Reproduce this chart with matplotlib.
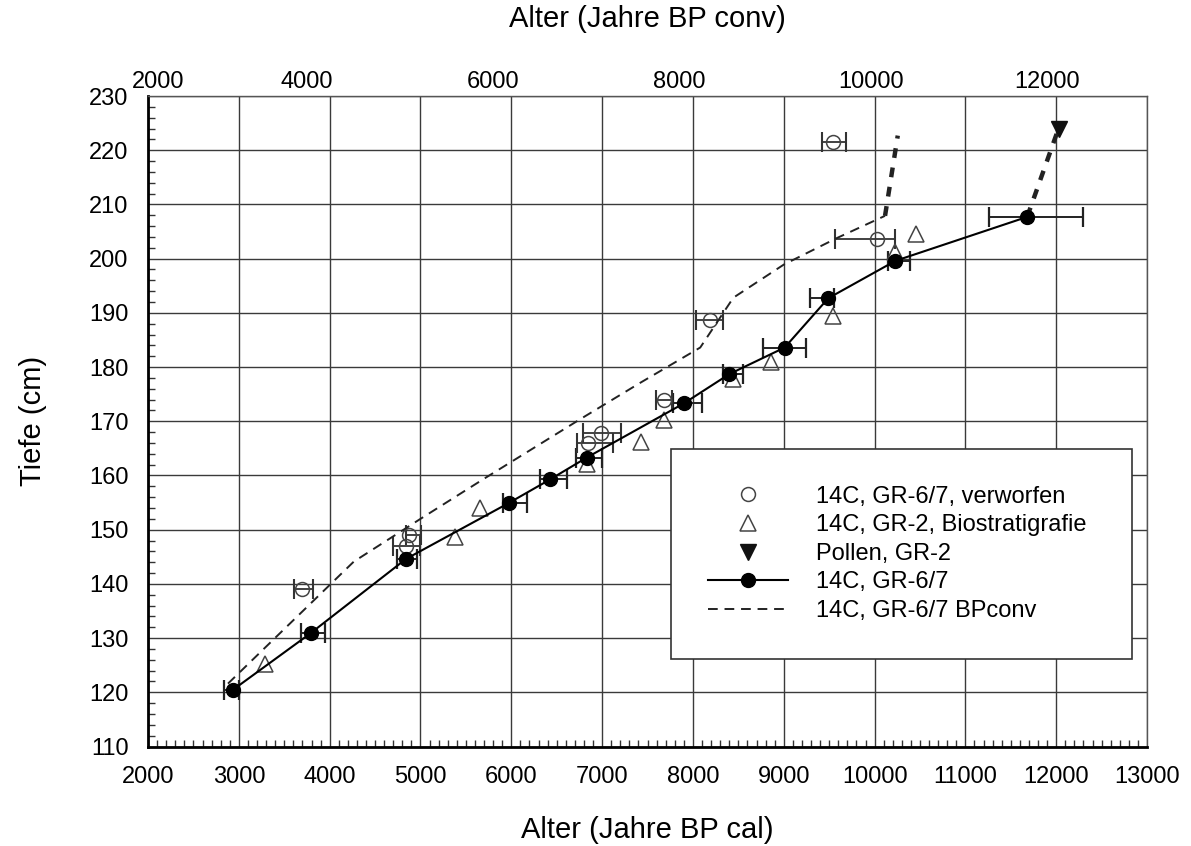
import matplotlib
matplotlib.use("Agg")
import matplotlib.pyplot as plt
from matplotlib.ticker import MultipleLocator

plt.rcParams['font.family'] = ['Liberation Sans', 'DejaVu Sans']

# 14C, GR-6/7 (cal. ages, with error range)
cal_age = [2930, 3790, 4840, 5970, 6430, 6830, 7900, 8400, 9010, 9490, 10230, 11680]
cal_depth = [120.4, 130.9, 144.6, 154.9, 159.3, 163.3, 173.3, 178.7, 183.6, 192.7, 199.6, 207.7]
cal_lo = [2840, 3685, 4740, 5910, 6320, 6710, 7780, 8335, 8770, 9285, 10150, 11255]
cal_hi = [3000, 3950, 4960, 6170, 6615, 7000, 8095, 8550, 9245, 9550, 10390, 12290]

# 14C, GR-6/7, verworfen
rej_age = [3690, 4840, 4870, 6840, 6985, 7685, 8190, 10025, 9545]
rej_depth = [139.0, 147.0, 149.0, 165.9, 167.9, 173.9, 188.7, 203.6, 221.6]
rej_lo = [3610, 4700, 4840, 6725, 6790, 7595, 8035, 9565, 9420]
rej_hi = [3820, 4990, 5010, 7120, 7205, 7770, 8335, 10220, 9690]

# 14C, GR-2, Biostratigrafie
bio_age = [3290, 5380, 5655, 6830, 7430, 7685, 8445, 8860, 9545, 10230, 10460]
bio_depth = [125.2, 148.7, 154.0, 162.1, 166.2, 170.3, 177.8, 181.0, 189.5, 201.3, 204.5]

# Pollen, GR-2
pollen_age = [12025]
pollen_depth = [224.0]

# 14C, GR-6/7 BPconv (drawn in cal. axis units)
conv_age = [2880, 4265, 5000, 5690, 6760, 7420, 8080, 8445, 9000, 9585, 10115]
conv_depth = [121.6, 144.1, 152.0, 159.3, 170.4, 177.1, 183.6, 192.8, 198.9, 203.8, 207.9]
conv_ext_age = [10115, 10255]
conv_ext_depth = [207.9, 222.7]

# top axis (BP conv) labels and where they sit on the cal scale
top_labels = [2000, 4000, 6000, 8000, 10000, 12000]
top_pos = [2110, 3750, 5800, 7850, 9960, 11900]

fig = plt.figure(figsize=(11.91, 8.46), dpi=100)
ax = fig.add_axes([0.1243, 0.1176, 0.8388, 0.7689])

ax.set_xlim(2000, 13000)
ax.set_ylim(110, 230)
ax.xaxis.set_major_locator(MultipleLocator(1000))
ax.xaxis.set_minor_locator(MultipleLocator(100))
ax.yaxis.set_major_locator(MultipleLocator(10))
ax.yaxis.set_minor_locator(MultipleLocator(2))
ax.grid(True, which='major', color='#3a3a3a', lw=1.0)
ax.set_axisbelow(True)
ax.tick_params(which='major', length=0, labelsize=17)
ax.tick_params(axis='x', which='major', pad=14)
ax.tick_params(axis='y', which='major', pad=14)
ax.tick_params(which='minor', direction='in', length=5, width=1, color='#333333')
for side in ['left', 'bottom']:
    ax.spines[side].set_linewidth(2.0)
    ax.spines[side].set_color('black')
for side in ['top', 'right']:
    ax.spines[side].set_linewidth(1.0)
    ax.spines[side].set_color('#555555')

# error bars
ax.errorbar(cal_age, cal_depth,
            xerr=[[a - lo for a, lo in zip(cal_age, cal_lo)],
                  [hi - a for a, hi in zip(cal_age, cal_hi)]],
            fmt='none', ecolor='#222222', elinewidth=1.4, capsize=7.5, capthick=1.6, zorder=3)
ax.errorbar(rej_age, rej_depth,
            xerr=[[a - lo for a, lo in zip(rej_age, rej_lo)],
                  [hi - a for a, hi in zip(rej_age, rej_hi)]],
            fmt='none', ecolor='#333333', elinewidth=1.3, capsize=7.5, capthick=1.5, zorder=3)

ax.plot(rej_age, rej_depth, 'o', ms=10, mfc='none', mec='#444444', mew=1.1,
        label='14C, GR-6/7, verworfen', zorder=4)
ax.plot(bio_age, bio_depth, '^', ms=11, mfc='none', mec='#444444', mew=1.1,
        label='14C, GR-2, Biostratigrafie', zorder=4)
ax.plot(pollen_age, pollen_depth, 'v', ms=11, color='#111111',
        label='Pollen, GR-2', zorder=5)
ax.plot(cal_age, cal_depth, '-o', color='black', lw=1.5, ms=10,
        label='14C, GR-6/7', zorder=5)
ax.plot(conv_age, conv_depth, '--', color='#222222', lw=1.4, dashes=(5, 3.5),
        label='14C, GR-6/7 BPconv', zorder=4)

# thick dashed extensions towards the top
ax.plot(conv_ext_age, conv_ext_depth, color='#222222', lw=3.2, dashes=(2.2, 2.2), zorder=4)
ax.plot([cal_age[-1], pollen_age[0]], [cal_depth[-1], pollen_depth[0]],
        color='#222222', lw=3.2, dashes=(2.2, 2.2), zorder=4)

ax.set_xlabel('Alter (Jahre BP cal)', fontsize=21, labelpad=20)
ax.set_ylabel('Tiefe (cm)', fontsize=21, labelpad=30)

top = ax.twiny()
top.set_xlim(ax.get_xlim())
top.set_xticks(top_pos)
top.set_xticklabels([str(v) for v in top_labels])
top.tick_params(length=0, labelsize=17, pad=2)
top.xaxis.set_minor_locator(plt.NullLocator())
for s in top.spines.values():
    s.set_visible(False)
top.set_xlabel('Alter (Jahre BP conv)', fontsize=21, labelpad=32)

leg = ax.legend(loc='upper left', bbox_to_anchor=(0.5235, 0.3573, 0.4615, 0.1),
                mode='expand', fontsize=17, frameon=True, fancybox=False,
                edgecolor='#333333', framealpha=1, borderpad=1.55,
                handlelength=3.4, handletextpad=1.2, labelspacing=0.28,
                borderaxespad=0)
leg.get_frame().set_linewidth(1.2)
leg.set_zorder(10)

fig.savefig('out.png', dpi=100)
